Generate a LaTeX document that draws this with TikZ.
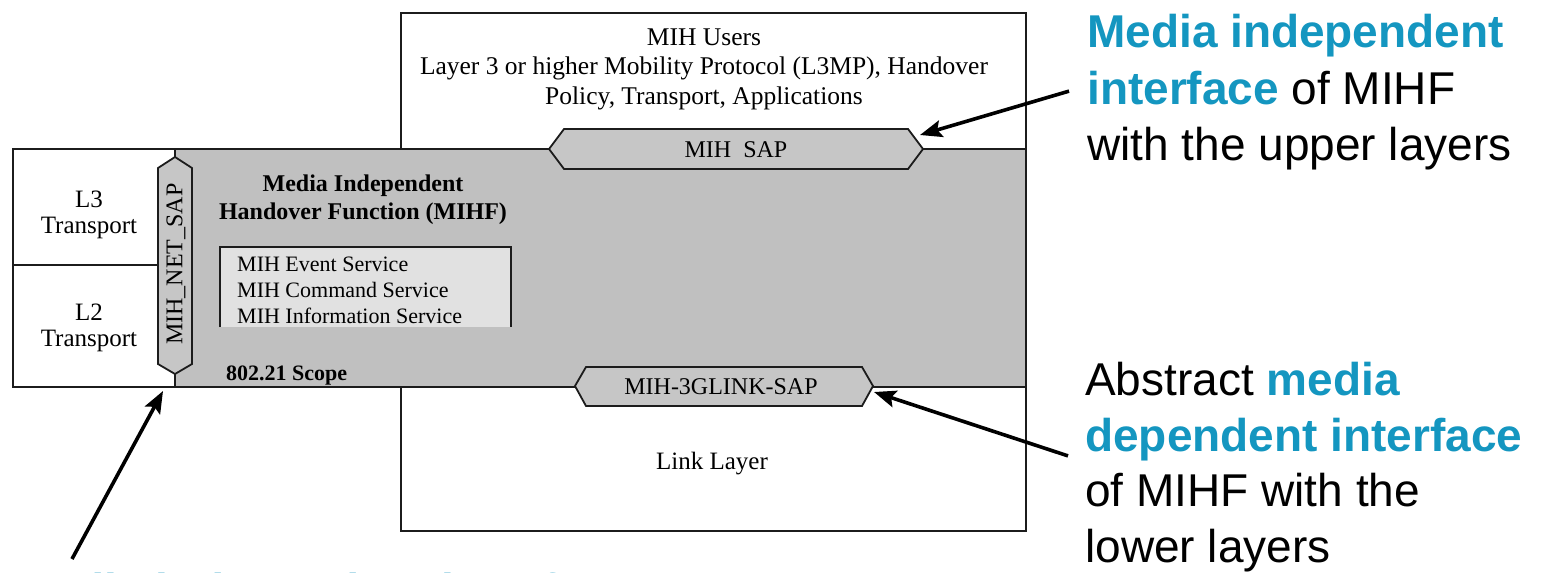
\documentclass[tikz,border=0pt]{standalone}
\usepackage{fontspec}
\setmainfont{Liberation Serif}
\newfontfamily\annfont{Liberation Sans}
\usetikzlibrary{arrows.meta}

\definecolor{mihblue}{RGB}{20,150,192}
\definecolor{bandgrey}{RGB}{192,192,192}
\definecolor{sapgrey}{RGB}{198,198,198}
\definecolor{svcgrey}{RGB}{225,225,225}
\definecolor{edge}{RGB}{28,28,28}

\tikzset{
  frame/.style={draw=edge, line width=2.2pt},
  sapbox/.style={draw=edge, line width=1.8pt, fill=sapgrey, line join=miter},
  lbl/.style={font=\fontsize{24}{29.5}\selectfont, align=center, inner sep=0pt},
  saplbl/.style={font=\fontsize{24}{26}\selectfont, inner sep=0pt},
  svc/.style={font=\fontsize{22}{26}\selectfont, align=left, inner sep=0pt},
  ann/.style={font=\annfont\fontsize{46}{56.5}\selectfont, align=left, inner sep=0pt},
  hl/.style={font=\annfont\bfseries\fontsize{46}{56.5}\selectfont, text=mihblue},
  pointer/.style={line width=3.6pt, -{Stealth[length=22pt,width=17pt,inset=4pt]}},
}

\begin{document}
\begin{tikzpicture}[x=1pt,y=-1pt]
\useasboundingbox (0,0) rectangle (1545,573);
\clip (0,0) rectangle (1545,573);

% MIHF band: grey area right of the network SAP
\fill[bandgrey] (175,148) rectangle (1025,386);

% outer frames
\node[frame, minimum width=625pt, minimum height=136pt, anchor=north west] (users) at (400,12) {};
\node[frame, minimum width=1013pt, minimum height=238pt, anchor=north west] (band) at (12,148) {};
\node[frame, minimum width=625pt, minimum height=144pt, anchor=north west] (link) at (400,386) {};

% left transport boxes
\draw[frame] (12,265) -- (158,265);
\node[lbl, font=\fontsize{25}{26}\selectfont] (l3) at (89,215) {L3\\Transport};
\node[lbl, font=\fontsize{25}{26}\selectfont] (l2) at (89,328) {L2\\Transport};

% MIH_NET_SAP (vertical)
\draw[frame, line width=1.8pt] (175,148) -- (175,157);
\draw[frame, line width=1.8pt] (175,374) -- (175,386);
\draw[sapbox] (175,157) -- (192,168) -- (192,364) -- (175,374) -- (158,364) -- (158,168) -- cycle;
\node[lbl, rotate=90] (netsap) at (176,264) {MIH\_NET\_SAP};

% MIH SAP on the upper edge
\draw[sapbox] (549,149) -- (564,129) -- (908,129) -- (923,149) -- (908,169) -- (564,169) -- cycle;
\node[saplbl] (sap) at (736,150) {MIH\ \ SAP};

% MIH-3GLINK-SAP on the lower edge
\draw[sapbox] (575,386) -- (586,367) -- (862,367) -- (873,386) -- (862,406) -- (586,406) -- cycle;
\node[saplbl] (glink) at (721,387) {MIH-3GLINK-SAP};

% texts of the stack
\node[lbl, font=\fontsize{25.5}{29.5}\selectfont] (userstxt) at (704,69) {MIH Users\\Layer 3 or higher Mobility Protocol (L3MP), Handover\\Policy, Transport, Applications};
\node[lbl, font=\bfseries\fontsize{24}{28}\selectfont] (mihf) at (363,200) {Media Independent\\Handover Function (MIHF)};
\node[lbl, font=\fontsize{25}{26}\selectfont] (linktxt) at (712,464) {Link Layer};
\node[svc, font=\bfseries\fontsize{22}{26}\selectfont, anchor=base west] (scope) at (226,380) {802.21 Scope};

% service list
\fill[svcgrey] (220,247) rectangle (511,327);
\draw[edge, line width=2pt] (220,327) -- (220,247) -- (511,247) -- (511,327);
\node[svc, anchor=north west] (services) at (237,257) {MIH Event Service\\MIH Command Service\\MIH Information Service};

% annotations
\node[ann, anchor=north west] (annup) at (1087,14)
  {{\bfseries\color{mihblue}Media independent}\\{\bfseries\color{mihblue}interface} of MIHF\\with the upper layers};
\node[ann, font=\annfont\fontsize{46}{55.5}\selectfont, anchor=north west] (anndown) at (1085,362)
  {Abstract {\bfseries\color{mihblue}media}\\{\bfseries\color{mihblue}dependent interface}\\of MIHF with the\\lower layers};
\node[hl, anchor=base west, inner sep=0pt] (annnet) at (12,606) {Media independent interface};

% pointers
\coordinate (sapTip) at (920,135);
\coordinate (glinkTip) at (874,392);
\coordinate (netTip) at (163,391);
\coordinate (netFrom) at (72,559);
\draw[pointer] ([xshift=-18pt,yshift=1pt]annup.west) -- (sapTip);
\draw[pointer] ([xshift=-17pt,yshift=11pt]anndown.west) -- (glinkTip);
\draw[pointer] (netFrom) -- (netTip);
\end{tikzpicture}
\end{document}
